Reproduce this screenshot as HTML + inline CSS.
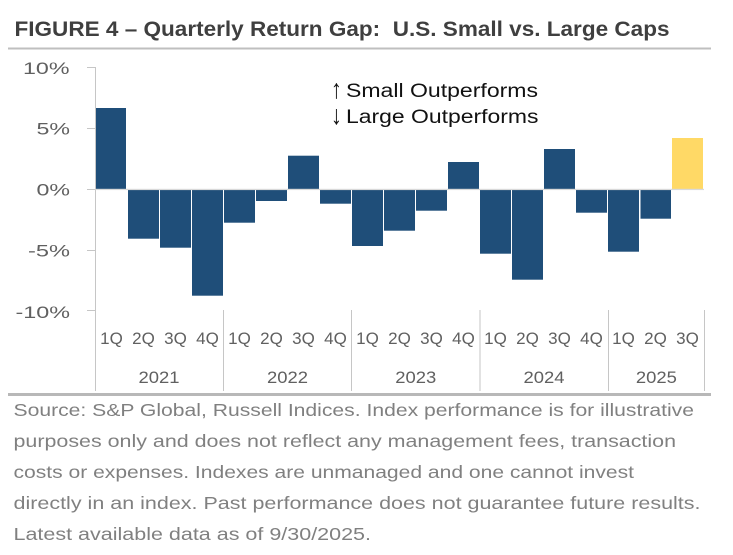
<!DOCTYPE html>
<html>
<head>
<meta charset="utf-8">
<style>
  html, body { margin: 0; padding: 0; background: #ffffff; }
  body { width: 733px; height: 555px; overflow: hidden; }
  svg { display: block; }
  text { font-family: "Liberation Sans", "DejaVu Sans", sans-serif; }
</style>
</head>
<body>
<svg width="733" height="555" viewBox="0 0 733 555" xmlns="http://www.w3.org/2000/svg">
  <rect x="0" y="0" width="733" height="555" fill="#ffffff"/>

  <!-- Title -->
  <text x="14.5" y="36" font-size="21" font-weight="bold" fill="#3f3f3f" textLength="655" lengthAdjust="spacingAndGlyphs" xml:space="preserve">FIGURE 4 – Quarterly Return Gap:  U.S. Small vs. Large Caps</text>
  <rect x="8" y="47.5" width="703" height="2" fill="#bfbfbf"/>

  <!-- Y axis labels -->
  <g font-size="17" fill="#606060" text-anchor="end">
    <text x="69.5" y="74" textLength="46.5" lengthAdjust="spacingAndGlyphs">10%</text>
    <text x="70" y="134.5" textLength="33.5" lengthAdjust="spacingAndGlyphs">5%</text>
    <text x="70" y="195.5" textLength="33.5" lengthAdjust="spacingAndGlyphs">0%</text>
    <text x="70" y="256.5" textLength="42" lengthAdjust="spacingAndGlyphs">-5%</text>
    <text x="70" y="318" textLength="54.5" lengthAdjust="spacingAndGlyphs">-10%</text>
  </g>

  <!-- Y axis line and ticks -->
  <g stroke="#c6c6c6" stroke-width="1">
    <line x1="95.5" y1="67" x2="95.5" y2="391"/>
    <line x1="87" y1="67.5" x2="95.5" y2="67.5"/>
    <line x1="87" y1="128.5" x2="95.5" y2="128.5"/>
    <line x1="87" y1="189.5" x2="95.5" y2="189.5"/>
    <line x1="87" y1="250.5" x2="95.5" y2="250.5"/>
    <line x1="87" y1="310.5" x2="95.5" y2="310.5"/>
    <!-- group separators -->
    <line x1="223.5" y1="310" x2="223.5" y2="391"/>
    <line x1="351.5" y1="310" x2="351.5" y2="391"/>
    <line x1="480" y1="310" x2="480" y2="391"/>
    <line x1="608.5" y1="310" x2="608.5" y2="391"/>
    <line x1="704.5" y1="310" x2="704.5" y2="391"/>
  </g>

  <!-- Legend text -->
  <g fill="#111111">
    <text x="331" y="98" font-size="27" font-weight="normal" font-family="'DejaVu Sans', sans-serif" textLength="11" lengthAdjust="spacingAndGlyphs">↑</text>
    <text x="346" y="97" font-size="19" textLength="192" lengthAdjust="spacingAndGlyphs">Small Outperforms</text>
    <text x="331" y="124" font-size="27" font-weight="normal" font-family="'DejaVu Sans', sans-serif" textLength="11" lengthAdjust="spacingAndGlyphs">↓</text>
    <text x="346" y="123" font-size="19" textLength="192.5" lengthAdjust="spacingAndGlyphs">Large Outperforms</text>
  </g>

  <!-- Bars -->
  <g fill="#1f4e79">
    <rect x="96" y="108" width="30" height="81.5"/>
    <rect x="128" y="189.5" width="31" height="49.2"/>
    <rect x="160" y="189.5" width="31" height="58.2"/>
    <rect x="192" y="189.5" width="31" height="106.2"/>
    <rect x="224" y="189.5" width="31" height="33.2"/>
    <rect x="256" y="189.5" width="31" height="11.5"/>
    <rect x="288" y="155.7" width="31" height="33.8"/>
    <rect x="320" y="189.5" width="31" height="14.2"/>
    <rect x="352" y="189.5" width="31" height="56.5"/>
    <rect x="384" y="189.5" width="31" height="41.2"/>
    <rect x="416" y="189.5" width="31" height="21.2"/>
    <rect x="448" y="162" width="31" height="27.5"/>
    <rect x="480" y="189.5" width="31" height="64.2"/>
    <rect x="512" y="189.5" width="31" height="90.2"/>
    <rect x="544" y="149" width="31" height="40.5"/>
    <rect x="576" y="189.5" width="31" height="23.2"/>
    <rect x="608" y="189.5" width="31" height="62.2"/>
    <rect x="640.5" y="189.5" width="30.5" height="29.2"/>
  </g>
  <rect x="672" y="138" width="31" height="51.5" fill="#ffd966"/>

  <!-- Zero line -->
  <rect x="95.5" y="188.8" width="608.5" height="1.3" fill="#d9d9d9"/>

  <!-- Category labels -->
  <g font-size="17" fill="#606060" text-anchor="middle">
    <text x="111.5" y="344">1Q</text>
    <text x="143.5" y="344">2Q</text>
    <text x="175.5" y="344">3Q</text>
    <text x="207.5" y="344">4Q</text>
    <text x="239.5" y="344">1Q</text>
    <text x="271.5" y="344">2Q</text>
    <text x="303.5" y="344">3Q</text>
    <text x="335.5" y="344">4Q</text>
    <text x="367.5" y="344">1Q</text>
    <text x="399.5" y="344">2Q</text>
    <text x="431.5" y="344">3Q</text>
    <text x="463.5" y="344">4Q</text>
    <text x="495.5" y="344">1Q</text>
    <text x="527.5" y="344">2Q</text>
    <text x="559.5" y="344">3Q</text>
    <text x="591.5" y="344">4Q</text>
    <text x="623.5" y="344">1Q</text>
    <text x="655.5" y="344">2Q</text>
    <text x="687.5" y="344">3Q</text>
  </g>
  <g font-size="17" fill="#606060" text-anchor="middle">
    <text x="159" y="383" textLength="41" lengthAdjust="spacingAndGlyphs">2021</text>
    <text x="287.5" y="383" textLength="41" lengthAdjust="spacingAndGlyphs">2022</text>
    <text x="415.8" y="383" textLength="41" lengthAdjust="spacingAndGlyphs">2023</text>
    <text x="544" y="383" textLength="41" lengthAdjust="spacingAndGlyphs">2024</text>
    <text x="656.4" y="383" textLength="41" lengthAdjust="spacingAndGlyphs">2025</text>
  </g>

  <!-- Bottom separator -->
  <rect x="8" y="393" width="703" height="3" fill="#b8b8b8"/>

  <!-- Footnote -->
  <g font-size="17.5" fill="#808080">
    <text x="13.5" y="416" textLength="680.5" lengthAdjust="spacingAndGlyphs">Source: S&amp;P Global, Russell Indices. Index performance is for illustrative</text>
    <text x="13.5" y="447" textLength="662.5" lengthAdjust="spacingAndGlyphs">purposes only and does not reflect any management fees, transaction</text>
    <text x="13.5" y="478" textLength="620.5" lengthAdjust="spacingAndGlyphs">costs or expenses. Indexes are unmanaged and one cannot invest</text>
    <text x="13.5" y="509" textLength="687" lengthAdjust="spacingAndGlyphs">directly in an index. Past performance does not guarantee future results.</text>
    <text x="13.5" y="540" textLength="357.5" lengthAdjust="spacingAndGlyphs">Latest available data as of 9/30/2025.</text>
  </g>
</svg>
</body>
</html>
